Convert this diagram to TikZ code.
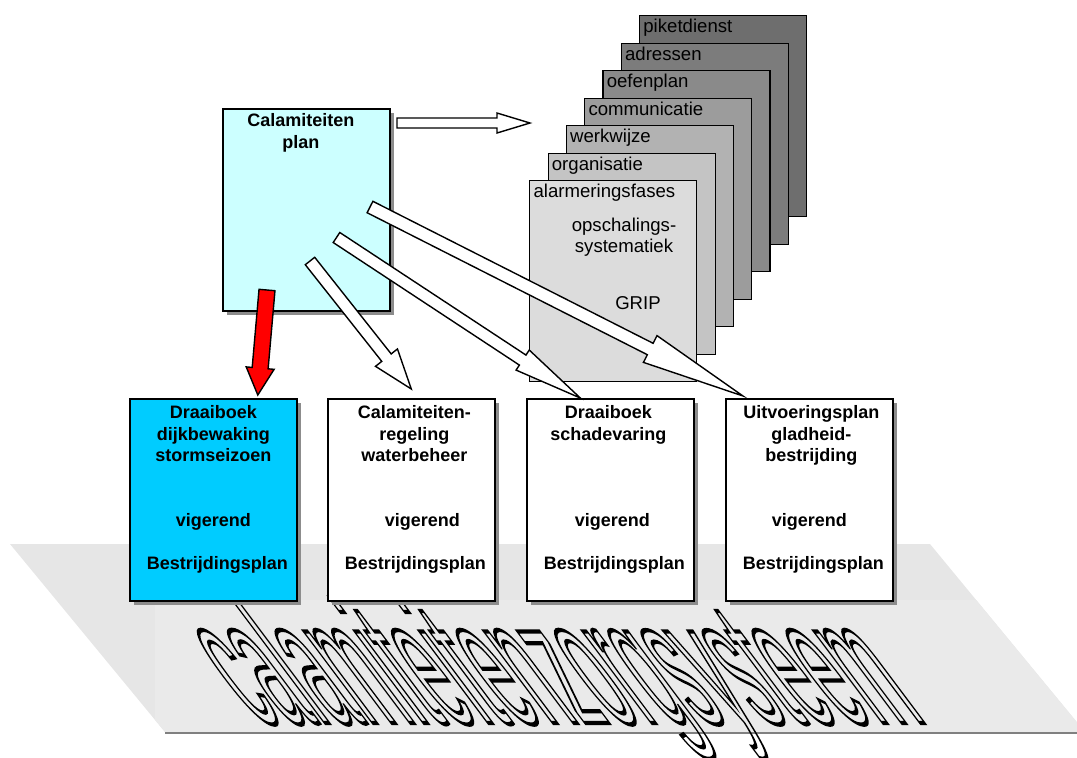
\documentclass[tikz,border=0pt]{standalone}
\usepackage{fontspec}
\setmainfont{Liberation Sans}
\usetikzlibrary{positioning,calc,shadows}

\definecolor{plancyan}{HTML}{CCFFFF}
\definecolor{boekblauw}{HTML}{00CCFF}
\definecolor{vlak}{HTML}{E6E6E6}
\definecolor{vlaklicht}{HTML}{EAEAEA}
\definecolor{blad0}{HTML}{6E6E6E}
\definecolor{blad1}{HTML}{7C7C7C}
\definecolor{blad2}{HTML}{8A8A8A}
\definecolor{blad3}{HTML}{9C9C9C}
\definecolor{blad4}{HTML}{B2B2B2}
\definecolor{blad5}{HTML}{C4C4C4}
\definecolor{blad6}{HTML}{DCDCDC}

% outlined text (stroke render mode)
\newcommand{\omtrek}[1]{\special{pdf:literal direct 1 Tr 0.5 w}#1\special{pdf:literal direct 0 Tr}}

% block arrow: [style]{start}{tip}{half shaft}{half head}{head length}
\newcommand{\blokpijl}[6][]{%
  \coordinate (bp-h) at ($(#3)!#6!(#2)$);
  \draw[blokpijlstijl,#1] ($(#2)!#4!90:(#3)$) -- ($(bp-h)!#4!-90:(#2)$)
    -- ($(bp-h)!#5!-90:(#2)$) -- (#3) -- ($(bp-h)!#5!90:(#2)$)
    -- ($(bp-h)!#4!90:(#2)$) -- ($(#2)!#4!-90:(#3)$) -- cycle;
}

\tikzset{
  doc/.style={draw, line width=0.8pt, anchor=north west, inner sep=0pt,
    minimum width=83.5pt, minimum height=101pt,
    drop shadow={opacity=1, fill=black!45, shadow xshift=2pt, shadow yshift=-2pt}},
  doctext/.style={font=\fontsize{9}{10.75}\selectfont\bfseries, align=center, inner sep=0pt},
  blad/.style={draw, line width=0.6pt, anchor=north west, inner sep=0pt,
    minimum width=83.5pt, minimum height=100.5pt},
  bladtekst/.style={anchor=north west, font=\fontsize{9.3}{10.5}\selectfont, inner sep=2pt},
  blokpijlstijl/.style={draw, line width=0.7pt, fill=white, line join=miter},
  wordart/.style={anchor=base west, inner sep=0pt, font=\fontsize{20}{24}\selectfont,
    xslant=-0.75, yscale=4.33, xscale=1.53}
}

\begin{document}
\begin{tikzpicture}[x=0.5pt,y=-0.5pt]
\useasboundingbox (0,0) rectangle (1077,757);

% ondergrond
\fill[vlak] (10,544) -- (930,544) -- (1085,732) -- (165,732) -- cycle;
\begin{scope}
  \clip (10,544) -- (930,544) -- (1085,732) -- (165,732) -- cycle;
  \fill[vlaklicht] (155,600) rectangle (1077,732);
\end{scope}
\draw[gray, line width=1.2pt] (165,733) -- (1077,733);
\node[wordart] (zorg) at (255,723) {\omtrek{calamiteitenzorgsysteem}};

% stapel bladen
\foreach \lab/\kleur [count=\i from 0] in {piketdienst/blad0, adressen/blad1,
    oefenplan/blad2, communicatie/blad3, werkwijze/blad4, organisatie/blad5,
    alarmeringsfases/blad6}
{
  \node[blad, fill=\kleur] (b\i) at ({639-18.3*\i},{15+27.5*\i}) {};
  \node[bladtekst] at (b\i.north west) {\lab};
}
\node[bladtekst, anchor=center, align=center] (opsch) at (624,237) {opschalings-\\systematiek};
\node[bladtekst, anchor=center] (grip) at (638,303) {GRIP};

% calamiteitenplan
\node[doc, fill=plancyan] (plan) at (222,108) {};
\node[doctext, below=2.7pt of plan.north, xshift=-2.75pt] {Calamiteiten\\plan};

% draaiboeken
\node[doc, fill=boekblauw] (d1) at (129,398) {};
\node[doc, fill=white] (d2) at (327,398) {};
\node[doc, fill=white] (d3) at (526,398) {};
\node[doc, fill=white] (d4) at (725,398) {};
\node[doctext, below=3.7pt of d1.north] {Draaiboek\\dijkbewaking\\stormseizoen};
\node[doctext, below=3.7pt of d2.north, xshift=1.5pt] {Calamiteiten-\\regeling\\waterbeheer};
\node[doctext, below=3.7pt of d3.north, xshift=-1pt] {Draaiboek\\schadevaring};
\node[doctext, below=3.7pt of d4.north, xshift=1pt] {Uitvoeringsplan\\gladheid-\\bestrijding};
\foreach \d/\dx in {d1/0pt, d2/5.5pt, d3/1pt, d4/0pt}
{
  \node[doctext] at ([xshift=\dx, yshift=-62pt]\d.north) {vigerend};
  \node[doctext] at ([xshift=2pt, yshift=-83.5pt]\d.north) {Bestrijdingsplan};
}

% pijlen
\coordinate (p0-start) at (397,123);
\coordinate (p0-tip) at (530,123);
\coordinate (r-start) at (267,290);
\coordinate (r-tip) at ([xshift=22.25pt, yshift=1.5pt]d1.north);
\coordinate (p2-start) at (310,261);
\coordinate (p2-tip) at ([yshift=4.5pt]d2.north);
\coordinate (p3-start) at (336.5,237.5);
\coordinate (p3-tip) at ([xshift=-15pt]d3.north);
\coordinate (p4-start) at (370,207);
\coordinate (p4-tip) at ([xshift=9pt, yshift=1pt]d4.north west);
\blokpijl{p0-start}{p0-tip}{2.5pt}{5pt}{16.5pt}
\blokpijl[fill=red]{r-start}{r-tip}{4pt}{7pt}{13.5pt}
\blokpijl{p2-start}{p2-tip}{3pt}{7pt}{20pt}
\blokpijl{p3-start}{p3-tip}{3pt}{6pt}{34.5pt}
\blokpijl{p4-start}{p4-tip}{3.2pt}{7.5pt}{52pt}
\end{tikzpicture}
\end{document}
